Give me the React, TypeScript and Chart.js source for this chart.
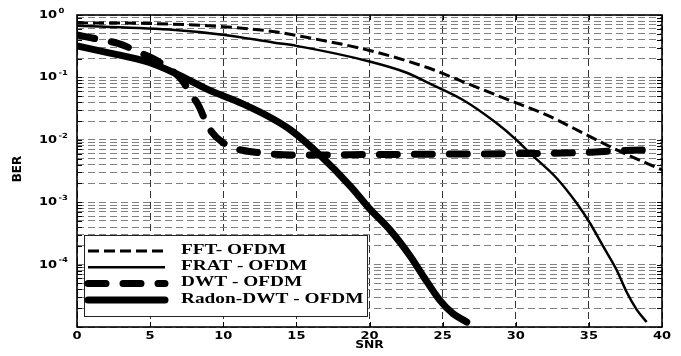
import React, { useEffect, useRef } from 'react';
import { Chart, registerables } from 'chart.js';

Chart.register(...registerables);

const xTicks = [0, 5, 10, 15, 20, 25, 30, 35, 40];
const yDecadeExponents = [0, -1, -2, -3, -4];
const seriesNames = ['FFT- OFDM', 'FRAT - OFDM', 'DWT - OFDM', 'Radon-DWT - OFDM'];

const fftSNR = [0, 5, 10, 13.5, 15, 20, 24.1, 26.4, 29.8, 32.1, 34.85, 36.9, 40];
const fftBER = [0.75, 0.73, 0.65, 0.54, 0.47, 0.27, 0.14, 0.085, 0.041, 0.025, 0.012, 0.0069, 0.0033];

const fratSNR = [0, 6.7, 10.1, 13.5, 15, 20, 22.5, 24.1, 26.4, 28.7, 30.06, 30.97, 32.8, 34.17, 35.08, 35.99, 36.9, 37.59, 38.27, 38.95];
const fratBER = [0.67, 0.575, 0.48, 0.36, 0.32, 0.18, 0.12, 0.08, 0.0435, 0.0184, 0.0099, 0.0061, 0.00242, 0.00096, 0.00046, 0.000194, 0.000082, 0.000036, 0.000019, 0.000012];

const dwtSNR = [0, 1.2, 2.8, 3.7, 4.65, 5.56, 6.7, 7.16, 7.84, 8.3, 8.75, 9.2, 9.9, 10.8, 12.2, 15, 20, 25, 30, 35, 37, 39.5];
const dwtBER = [0.48, 0.42, 0.35, 0.29, 0.23, 0.18, 0.117, 0.091, 0.052, 0.036, 0.021, 0.0135, 0.0093, 0.0073, 0.0063, 0.0057, 0.0058, 0.0059, 0.006, 0.0063, 0.0067, 0.0069];

const radonSNR = [0, 2.1, 4.9, 6.7, 9, 11.3, 13.5, 14.6, 16.6, 18.7, 20, 21.4, 22.8, 23.7, 24.8, 25.7, 26.65];
const radonBER = [0.32, 0.25, 0.175, 0.117, 0.063, 0.038, 0.021, 0.0144, 0.0057, 0.0018, 0.00079, 0.00036, 0.000135, 0.000064, 0.000027, 0.0000165, 0.000012];

const pts = (xs: number[], ys: number[]) => xs.map((x, i) => ({ x, y: ys[i] }));

const SANS = '"DejaVu Sans", sans-serif';
const SERIF = '"Liberation Serif", serif';

function sText(ctx: CanvasRenderingContext2D, text: string, x: number, y: number, font: string, sx: number, align: CanvasTextAlign) {
  ctx.save();
  ctx.translate(x, y);
  ctx.scale(sx, 1);
  ctx.font = font;
  ctx.textAlign = align;
  ctx.textBaseline = 'middle';
  ctx.fillStyle = '#000';
  ctx.fillText(text, 0, 0);
  ctx.restore();
}

const overlay = {
  id: 'overlay',
  afterDraw(chart: any) {
    const { ctx, chartArea: a, scales } = chart;
    const xs = scales.x;
    const ys = scales.y;
    ctx.save();
    ctx.setLineDash([]);
    ctx.strokeStyle = '#000';
    ctx.lineWidth = 1;
    ys.ticks.forEach((t: any) => {
      const y = Math.round(ys.getPixelForValue(t.value)) + 0.5;
      ctx.beginPath();
      ctx.moveTo(a.left, y);
      ctx.lineTo(a.left + 5, y);
      ctx.moveTo(a.right, y);
      ctx.lineTo(a.right - 5, y);
      ctx.stroke();
    });
    xs.ticks.forEach((t: any) => {
      const x = Math.round(xs.getPixelForValue(t.value)) + 0.5;
      ctx.beginPath();
      ctx.moveTo(x, a.bottom);
      ctx.lineTo(x, a.bottom - 5);
      ctx.moveTo(x, a.top);
      ctx.lineTo(x, a.top + 5);
      ctx.stroke();
    });
    ctx.lineWidth = 1.6;
    ctx.strokeRect(a.left, a.top, a.right - a.left, a.bottom - a.top);

    // y tick labels
    yDecadeExponents.forEach((e) => {
      const y = ys.getPixelForValue(Math.pow(10, e));
      sText(ctx, '10', a.left - 20, y + 0.5, `bold 10px ${SANS}`, 1.3, 'right');
      sText(ctx, String(e), a.left - 18.5, y - 4, `bold 7px ${SANS}`, 1.2, 'left');
    });
    // x tick labels
    xTicks.forEach((v) => {
      const x = xs.getPixelForValue(v);
      sText(ctx, String(v), x, a.bottom + 9.5, `bold 10px ${SANS}`, 1.3, 'center');
    });
    sText(ctx, 'SNR', (a.left + a.right) / 2, a.bottom + 18.5, `bold 10.5px ${SANS}`, 1.17, 'center');
    ctx.save();
    ctx.translate(17.5, 169);
    ctx.rotate(-Math.PI / 2);
    ctx.font = `bold 12px ${SANS}`;
    ctx.textAlign = 'center';
    ctx.textBaseline = 'middle';
    ctx.fillStyle = '#000';
    ctx.fillText('BER', 0, 0);
    ctx.restore();

    // legend
    const lx = a.left + 7;
    const ly = a.top + 220;
    const lw = 283;
    const lh = 81;
    ctx.fillStyle = '#fff';
    ctx.fillRect(lx, ly, lw, lh);
    ctx.strokeStyle = '#222';
    ctx.lineWidth = 1;
    ctx.strokeRect(lx + 0.5, ly + 0.5, lw, lh);
    chart.data.datasets.forEach((ds: any, i: number) => {
      const y = ly + 15 + i * 16.3;
      ctx.save();
      ctx.strokeStyle = '#000';
      ctx.lineWidth = ds.borderWidth;
      ctx.lineCap = ds.borderCapStyle || 'butt';
      ctx.setLineDash(ds.borderDash || []);
      ctx.beginPath();
      ctx.moveTo(lx + 4, y + 1);
      ctx.lineTo(lx + 81, y + 1);
      ctx.stroke();
      ctx.restore();
      sText(ctx, seriesNames[i], lx + 97, y, `bold 14px ${SERIF}`, 1.38, 'left');
    });
    ctx.restore();
  },
};

export default function App() {
  const ref = useRef<HTMLCanvasElement>(null);
  useEffect(() => {
    if (!ref.current) return;
    const chart = new Chart(ref.current, {
      type: 'line',
      data: {
        datasets: [
          { label: seriesNames[0], data: pts(fftSNR, fftBER), borderColor: '#000', borderWidth: 3, borderDash: [11, 5], fill: false },
          { label: seriesNames[1], data: pts(fratSNR, fratBER), borderColor: '#000', borderWidth: 2.5, fill: false },
          { label: seriesNames[2], data: pts(dwtSNR, dwtBER), borderColor: '#000', borderWidth: 7, borderDash: [18, 17], borderCapStyle: 'round', fill: false },
          { label: seriesNames[3], data: pts(radonSNR, radonBER), borderColor: '#000', borderWidth: 7, borderCapStyle: 'round', fill: false },
        ] as any,
      },
      options: {
        animation: false,
        responsive: false,
        maintainAspectRatio: false,
        layout: { padding: { top: 15, right: 19, left: 0, bottom: 0 } },
        elements: { point: { radius: 0 }, line: { cubicInterpolationMode: 'monotone' } },
        plugins: { legend: { display: false }, tooltip: { enabled: false } },
        scales: {
          x: {
            type: 'linear',
            min: 0,
            max: 40,
            afterBuildTicks: (s: any) => { s.ticks = xTicks.map((v) => ({ value: v })); },
            ticks: { display: false },
            grid: { color: '#333', lineWidth: 1, drawTicks: false },
            border: { display: false, dash: [7, 4] },
            afterFit: (s: any) => { s.height = 29; },
          },
          y: {
            type: 'logarithmic',
            min: 1e-5,
            max: 1,
            afterBuildTicks: (s: any) => {
              const t: { value: number }[] = [];
              for (let e = -5; e < 0; e++) for (let m = 1; m <= 9; m++) t.push({ value: m * Math.pow(10, e) });
              t.push({ value: 1 });
              s.ticks = t;
            },
            ticks: { display: false },
            grid: { color: '#808080', lineWidth: 1, drawTicks: false },
            border: { display: false, dash: [7, 4] },
            afterFit: (s: any) => { s.width = 77; },
          },
        } as any,
      },
      plugins: [overlay],
    });
    return () => chart.destroy();
  }, []);
  return (
    <div style={{ position: 'fixed', left: 0, top: 0, width: 681, height: 356, background: '#fff' }}>
      <canvas ref={ref} width={681} height={356} style={{ width: 681, height: 356, display: 'block' }} />
    </div>
  );
}
